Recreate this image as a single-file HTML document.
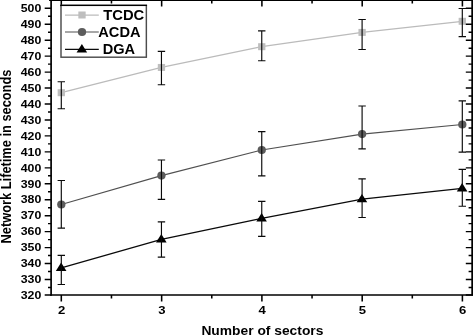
<!DOCTYPE html>
<html><head><meta charset="utf-8"><title>Network Lifetime</title>
<style>html,body{margin:0;padding:0;background:#fff;overflow:hidden}svg{display:block}</style></head>
<body>
<svg width="473" height="336" viewBox="0 0 473 336" style="display:block">
<rect width="473" height="336" fill="#fff"/>
<path d="M61.30 92.70 L161.45 67.45 L261.75 46.70 L362.10 32.40 L462.30 21.30" fill="none" stroke="#bbbbbb" stroke-width="1.25"/>
<rect x="57.65" y="89.20" width="7.3" height="7" fill="#bebebe"/>
<rect x="157.80" y="63.95" width="7.3" height="7" fill="#bebebe"/>
<rect x="258.10" y="43.20" width="7.3" height="7" fill="#bebebe"/>
<rect x="358.45" y="28.90" width="7.3" height="7" fill="#bebebe"/>
<rect x="458.65" y="17.80" width="7.3" height="7" fill="#bebebe"/>
<path d="M61.30 81.70 V108.75 M57.60 81.70 h7.4 M57.60 108.75 h7.4" fill="none" stroke="#0a0a0a" stroke-width="1.15"/>
<path d="M161.45 51.30 V84.70 M157.75 51.30 h7.4 M157.75 84.70 h7.4" fill="none" stroke="#0a0a0a" stroke-width="1.15"/>
<path d="M261.75 30.90 V60.70 M258.05 30.90 h7.4 M258.05 60.70 h7.4" fill="none" stroke="#0a0a0a" stroke-width="1.15"/>
<path d="M362.10 19.45 V49.50 M358.40 19.45 h7.4 M358.40 49.50 h7.4" fill="none" stroke="#0a0a0a" stroke-width="1.15"/>
<path d="M462.30 8.50 V36.60 M458.60 8.50 h7.4 M458.60 36.60 h7.4" fill="none" stroke="#0a0a0a" stroke-width="1.15"/>
<path d="M61.30 204.50 L161.45 175.60 L261.75 150.00 L362.10 134.10 L462.30 124.50" fill="none" stroke="#505050" stroke-width="1.1"/>
<ellipse cx="61.30" cy="204.50" rx="4.15" ry="4.05" fill="#5c5c5c"/>
<ellipse cx="161.45" cy="175.60" rx="4.15" ry="4.05" fill="#5c5c5c"/>
<ellipse cx="261.75" cy="150.00" rx="4.15" ry="4.05" fill="#5c5c5c"/>
<ellipse cx="362.10" cy="134.10" rx="4.15" ry="4.05" fill="#5c5c5c"/>
<ellipse cx="462.30" cy="124.50" rx="4.15" ry="4.05" fill="#5c5c5c"/>
<path d="M61.30 180.50 V228.10 M57.60 180.50 h7.4 M57.60 228.10 h7.4" fill="none" stroke="#0a0a0a" stroke-width="1.15"/>
<path d="M161.45 160.00 V199.40 M157.75 160.00 h7.4 M157.75 199.40 h7.4" fill="none" stroke="#0a0a0a" stroke-width="1.15"/>
<path d="M261.75 131.60 V175.90 M258.05 131.60 h7.4 M258.05 175.90 h7.4" fill="none" stroke="#0a0a0a" stroke-width="1.15"/>
<path d="M362.10 106.00 V148.80 M358.40 106.00 h7.4 M358.40 148.80 h7.4" fill="none" stroke="#0a0a0a" stroke-width="1.15"/>
<path d="M462.30 100.85 V152.15 M458.60 100.85 h7.4 M458.60 152.15 h7.4" fill="none" stroke="#0a0a0a" stroke-width="1.15"/>
<path d="M61.30 267.80 L161.45 239.30 L261.75 218.40 L362.10 199.20 L462.30 188.40" fill="none" stroke="#0a0a0a" stroke-width="1.3"/>
<path d="M55.85 270.95 L66.45 270.95 L61.15 262.50 Z" fill="#000000"/>
<path d="M156.00 242.45 L166.60 242.45 L161.30 234.00 Z" fill="#000000"/>
<path d="M256.30 221.55 L266.90 221.55 L261.60 213.10 Z" fill="#000000"/>
<path d="M356.65 202.35 L367.25 202.35 L361.95 193.90 Z" fill="#000000"/>
<path d="M456.85 191.55 L467.45 191.55 L462.15 183.10 Z" fill="#000000"/>
<path d="M61.30 255.40 V284.50 M57.60 255.40 h7.4 M57.60 284.50 h7.4" fill="none" stroke="#0a0a0a" stroke-width="1.15"/>
<path d="M161.45 221.85 V257.15 M157.75 221.85 h7.4 M157.75 257.15 h7.4" fill="none" stroke="#0a0a0a" stroke-width="1.15"/>
<path d="M261.75 201.30 V236.30 M258.05 201.30 h7.4 M258.05 236.30 h7.4" fill="none" stroke="#0a0a0a" stroke-width="1.15"/>
<path d="M362.10 178.90 V217.50 M358.40 178.90 h7.4 M358.40 217.50 h7.4" fill="none" stroke="#0a0a0a" stroke-width="1.15"/>
<path d="M462.30 169.40 V206.20 M458.60 169.40 h7.4 M458.60 206.20 h7.4" fill="none" stroke="#0a0a0a" stroke-width="1.15"/>
<g stroke="#000" fill="none">
<path d="M51.1 0 V295.65" stroke-width="1.7"/>
<path d="M50.25 295.0 H473" stroke-width="1.3"/>
<path d="M49.1 0.2 H473" stroke-width="1.8"/>
<path d="M472.15 0 V295.0" stroke-width="1.7"/>
<path d="M44.7 294.95 H51.1 M473 294.95 H465.8 M48.0 287.48 H51.1 M473 287.48 H468.6 M44.7 279.50 H51.1 M473 279.50 H465.8 M48.0 271.52 H51.1 M473 271.52 H468.6 M44.7 263.55 H51.1 M473 263.55 H465.8 M48.0 255.57 H51.1 M473 255.57 H468.6 M44.7 247.59 H51.1 M473 247.59 H465.8 M48.0 239.62 H51.1 M473 239.62 H468.6 M44.7 231.64 H51.1 M473 231.64 H465.8 M48.0 223.67 H51.1 M473 223.67 H468.6 M44.7 215.69 H51.1 M473 215.69 H465.8 M48.0 207.71 H51.1 M473 207.71 H468.6 M44.7 199.74 H51.1 M473 199.74 H465.8 M48.0 191.76 H51.1 M473 191.76 H468.6 M44.7 183.78 H51.1 M473 183.78 H465.8 M48.0 175.81 H51.1 M473 175.81 H468.6 M44.7 167.83 H51.1 M473 167.83 H465.8 M48.0 159.85 H51.1 M473 159.85 H468.6 M44.7 151.88 H51.1 M473 151.88 H465.8 M48.0 143.90 H51.1 M473 143.90 H468.6 M44.7 135.92 H51.1 M473 135.92 H465.8 M48.0 127.95 H51.1 M473 127.95 H468.6 M44.7 119.97 H51.1 M473 119.97 H465.8 M48.0 111.99 H51.1 M473 111.99 H468.6 M44.7 104.02 H51.1 M473 104.02 H465.8 M48.0 96.04 H51.1 M473 96.04 H468.6 M44.7 88.06 H51.1 M473 88.06 H465.8 M48.0 80.09 H51.1 M473 80.09 H468.6 M44.7 72.11 H51.1 M473 72.11 H465.8 M48.0 64.14 H51.1 M473 64.14 H468.6 M44.7 56.16 H51.1 M473 56.16 H465.8 M48.0 48.18 H51.1 M473 48.18 H468.6 M44.7 40.21 H51.1 M473 40.21 H465.8 M48.0 32.23 H51.1 M473 32.23 H468.6 M44.7 24.25 H51.1 M473 24.25 H465.8 M48.0 16.28 H51.1 M473 16.28 H468.6 M44.7 8.30 H51.1 M473 8.30 H465.8 " stroke-width="1.4"/>
<path d="M61.30 295.0 v6.4 M61.30 0 v6.5 M111.47 295.0 v3.4 M111.47 0 v3.5 M161.65 295.0 v6.4 M161.65 0 v6.5 M211.77 295.0 v3.4 M211.77 0 v3.5 M261.90 295.0 v6.4 M261.90 0 v6.5 M312.05 295.0 v3.4 M312.05 0 v3.5 M362.20 295.0 v6.4 M362.20 0 v6.5 M412.30 295.0 v3.4 M412.30 0 v3.5 M462.40 295.0 v6.4 M462.40 0 v6.5 " stroke-width="1.55"/>
</g>
<g font-family="Liberation Sans, Arial, sans-serif" font-weight="bold" fill="#000">
<text x="41.3" y="298.70" font-size="10.7" text-anchor="end" textLength="20.6" lengthAdjust="spacingAndGlyphs">320</text>
<text x="41.3" y="283.25" font-size="10.7" text-anchor="end" textLength="20.6" lengthAdjust="spacingAndGlyphs">330</text>
<text x="41.3" y="267.30" font-size="10.7" text-anchor="end" textLength="20.6" lengthAdjust="spacingAndGlyphs">340</text>
<text x="41.3" y="251.34" font-size="10.7" text-anchor="end" textLength="20.6" lengthAdjust="spacingAndGlyphs">350</text>
<text x="41.3" y="235.39" font-size="10.7" text-anchor="end" textLength="20.6" lengthAdjust="spacingAndGlyphs">360</text>
<text x="41.3" y="219.44" font-size="10.7" text-anchor="end" textLength="20.6" lengthAdjust="spacingAndGlyphs">370</text>
<text x="41.3" y="203.49" font-size="10.7" text-anchor="end" textLength="20.6" lengthAdjust="spacingAndGlyphs">380</text>
<text x="41.3" y="187.53" font-size="10.7" text-anchor="end" textLength="20.6" lengthAdjust="spacingAndGlyphs">390</text>
<text x="41.3" y="171.58" font-size="10.7" text-anchor="end" textLength="20.6" lengthAdjust="spacingAndGlyphs">400</text>
<text x="41.3" y="155.63" font-size="10.7" text-anchor="end" textLength="20.6" lengthAdjust="spacingAndGlyphs">410</text>
<text x="41.3" y="139.67" font-size="10.7" text-anchor="end" textLength="20.6" lengthAdjust="spacingAndGlyphs">420</text>
<text x="41.3" y="123.72" font-size="10.7" text-anchor="end" textLength="20.6" lengthAdjust="spacingAndGlyphs">430</text>
<text x="41.3" y="107.77" font-size="10.7" text-anchor="end" textLength="20.6" lengthAdjust="spacingAndGlyphs">440</text>
<text x="41.3" y="91.81" font-size="10.7" text-anchor="end" textLength="20.6" lengthAdjust="spacingAndGlyphs">450</text>
<text x="41.3" y="75.86" font-size="10.7" text-anchor="end" textLength="20.6" lengthAdjust="spacingAndGlyphs">460</text>
<text x="41.3" y="59.91" font-size="10.7" text-anchor="end" textLength="20.6" lengthAdjust="spacingAndGlyphs">470</text>
<text x="41.3" y="43.96" font-size="10.7" text-anchor="end" textLength="20.6" lengthAdjust="spacingAndGlyphs">480</text>
<text x="41.3" y="28.00" font-size="10.7" text-anchor="end" textLength="20.6" lengthAdjust="spacingAndGlyphs">490</text>
<text x="41.3" y="12.05" font-size="10.7" text-anchor="end" textLength="20.6" lengthAdjust="spacingAndGlyphs">500</text>
<text x="61.60" y="313.7" font-size="10.9" text-anchor="middle" textLength="7.3" lengthAdjust="spacingAndGlyphs">2</text>
<text x="161.95" y="313.7" font-size="10.9" text-anchor="middle" textLength="7.3" lengthAdjust="spacingAndGlyphs">3</text>
<text x="262.20" y="313.7" font-size="10.9" text-anchor="middle" textLength="7.3" lengthAdjust="spacingAndGlyphs">4</text>
<text x="362.50" y="313.7" font-size="10.9" text-anchor="middle" textLength="7.3" lengthAdjust="spacingAndGlyphs">5</text>
<text x="462.70" y="313.7" font-size="10.9" text-anchor="middle" textLength="7.3" lengthAdjust="spacingAndGlyphs">6</text>
<text x="201.4" y="335.4" font-size="13.6" textLength="122.0" lengthAdjust="spacingAndGlyphs">Number of sectors</text>
<text transform="translate(10.6 243.4) rotate(-90)" font-size="14.8" textLength="173.8" lengthAdjust="spacingAndGlyphs">Network Lifetime in seconds</text>
</g>
<rect x="61.0" y="5.35" width="85.35" height="51.85" fill="#fff" stroke="#4c4c4c" stroke-width="1.45"/>
<path d="M60.25 5.35 H147.05" stroke="#000" stroke-width="1.25"/>
<g font-family="Liberation Sans, Arial, sans-serif" font-weight="bold" fill="#000" font-size="14.6">
<path d="M65 15.0 H98.8" stroke="#bbbbbb" stroke-width="1.25"/>
<rect x="78.35" y="11.50" width="7.3" height="7" fill="#bebebe"/>
<text x="103.3" y="19.95" textLength="41.0" lengthAdjust="spacingAndGlyphs">TCDC</text>
<path d="M65 32.0 H98.8" stroke="#505050" stroke-width="1.1"/>
<ellipse cx="82.00" cy="32.00" rx="4.15" ry="4.05" fill="#5c5c5c"/>
<text x="98.3" y="36.95" textLength="42.3" lengthAdjust="spacingAndGlyphs">ACDA</text>
<path d="M65 49.3 H98.8" stroke="#0a0a0a" stroke-width="1.3"/>
<path d="M76.55 52.45 L87.15 52.45 L81.85 44.00 Z" fill="#000000"/>
<text x="102.7" y="54.25" textLength="32.4" lengthAdjust="spacingAndGlyphs">DGA</text>
</g>
</svg>
</body></html>
